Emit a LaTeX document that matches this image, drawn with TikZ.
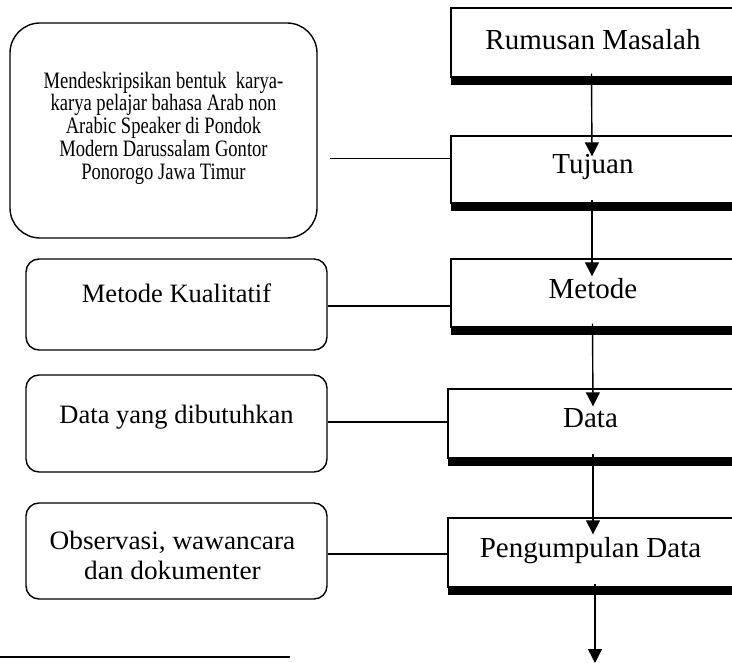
\documentclass[tikz,border=0pt]{standalone}
\usepackage{fontspec}
\setmainfont{Liberation Serif}
\newfontfamily\condA[FakeStretch=0.79]{Liberation Serif}
\newfontfamily\condB[FakeStretch=1.03]{Liberation Serif}
\usetikzlibrary{arrows.meta,calc}
\begin{document}
\begin{tikzpicture}[x=1pt,y=-1pt,
  mainbox/.style={draw, line width=1.4pt, fill=white, minimum width=284pt, minimum height=69pt, inner sep=0pt, font=\fontsize{29}{33}\selectfont},
  sidebox/.style={draw, line width=1.4pt, rounded corners=13pt, minimum width=301pt, inner sep=0pt, font=\fontsize{26.5}{30}\selectfont},
  link/.style={line width=1.4pt},
  arr/.style={line width=1.4pt, -{Triangle[length=14pt,width=14pt]}}]
\useasboundingbox (0,0) rectangle (732,663);
\clip (0,0) rectangle (732,663);

% main column
\node[mainbox] (rm) at (593,42.5) {\raisebox{-7pt}[0pt][0pt]{Rumusan Masalah}};
\node[mainbox, minimum height=67pt] (tj) at (593,169.5) {\raisebox{-4.5pt}[0pt][0pt]{Tujuan}};
\node[mainbox, minimum height=68pt] (me) at (593,293) {\raisebox{-5.5pt}[0pt][0pt]{Metode}};
\node[mainbox, minimum width=290pt] (da) at (593,423.5) {\raisebox{-4.5pt}[0pt][0pt]{\hspace*{-5pt}Data}};
\node[mainbox, minimum width=290pt] (pd) at (593,552.5) {\raisebox{-4.5pt}[0pt][0pt]{\hspace*{-5pt}Pengumpulan Data}};

% shadows
\foreach \n in {rm,tj,me,da,pd}
  \fill ($(\n.south west)+(1,0)$) rectangle ($(\n.south east)+(8,7)$);

% arrows
\draw[arr] ($(rm.south)+(-1.5,-4)$) -- ($(tj.north)+(-1,21)$);
\draw[arr] ($(tj.south)+(-1,-4)$) -- ($(me.north)+(-1,18)$);
\draw[arr] ($(me.south)+(-0.5,-4)$) -- ($(da.north)+(0,18)$);
\draw[arr] ($(da.south)+(0,-5)$) -- ($(pd.north)+(0,17)$);
\coordinate (end) at (595,663);
\draw[arr] ($(pd.south)+(2,-4)$) -- (end);

% side boxes
\node[sidebox, rounded corners=30pt, minimum width=307pt, minimum height=215pt,
      font=\condA\fontsize{23.5}{22.8}\selectfont] (tx) at (163.5,130.5)
  {\raisebox{-48.8pt}[0pt][0pt]{\parbox[b]{300pt}{\lineskiplimit=-100pt\centering
   Mendeskripsikan bentuk~ karya-\\karya pelajar bahasa Arab non\\Arabic Speaker di Pondok\\Modern Darussalam Gontor\\Ponorogo Jawa Timur}}};
\node[sidebox, minimum height=91pt] (mk) at (176.5,304.5) {\raisebox{1.5pt}[0pt][0pt]{Metode Kualitatif}};
\node[sidebox, minimum height=97pt] (dy) at (176.5,423.5) {\raisebox{0pt}[0pt][0pt]{Data yang dibutuhkan}};
\node[sidebox, minimum height=96pt, font=\condB\fontsize{26.5}{29.5}\selectfont] (ob) at (176.5,551)
  {\raisebox{-28pt}[0pt][0pt]{\parbox[b]{300pt}{\lineskiplimit=-100pt\centering
   \hspace*{-8pt}Observasi, wawancara\\\hspace*{-8pt}dan dokumenter}}};

% connectors
\coordinate (c1) at (330,158.3);
\draw[link] (c1) -- (c1 -| tj.west);
\draw[link] ([yshift=-1.5pt]mk.east) -- ([yshift=-1.5pt]mk.east -| me.west);
\draw[link] ([yshift=1.5pt]dy.east) -- ([yshift=1.5pt]dy.east -| da.west);
\draw[link] ([yshift=-3pt]ob.east) -- ([yshift=-3pt]ob.east -| pd.west);

% footnote rule
\coordinate (fl) at (0,657);
\coordinate (fr) at (290,657);
\draw[line width=2.5pt] (fl) -- (fr);
\end{tikzpicture}
\end{document}
